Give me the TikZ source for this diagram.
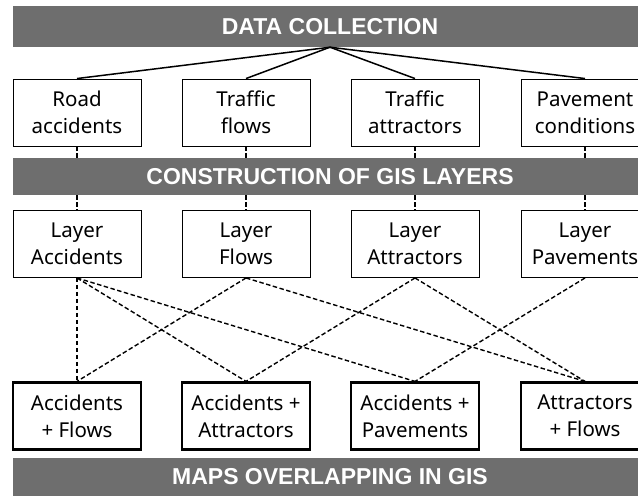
\documentclass[tikz,border=0pt]{standalone}
\usepackage{fontspec}
\setmainfont{Noto Sans}
\newfontfamily\bandfont{Liberation Sans}
\definecolor{bandgray}{RGB}{110,110,110}
\begin{document}
\begin{tikzpicture}[x=1pt,y=-1pt,
  band/.style={fill=bandgray, draw=none, minimum width=635pt, inner sep=0pt,
    text=white, font=\bandfont\bfseries\fontsize{23}{26}\selectfont},
  srcbox/.style={draw, line width=0.9pt, minimum width=128pt, minimum height=67pt,
    inner sep=0pt, align=center, font=\fontsize{20.5}{27}\selectfont},
  mapbox/.style={srcbox, line width=2.2pt},
  solidlink/.style={line width=1.5pt},
  dashlink/.style={line width=1.4pt, dash pattern=on 4.5pt off 2.5pt}]
\useasboundingbox (0,0) rectangle (638,496);

% stage bands
\node[band, minimum height=41pt] (dc)  at (330,26.5)  {DATA COLLECTION};
\node[band, minimum height=37pt] (gis) at (330,176.5) {CONSTRUCTION OF GIS LAYERS};
\node[band, minimum height=38pt] (map) at (330,477)   {MAPS OVERLAPPING IN GIS};

% data sources
\node[srcbox] (ra) at (77,112.5)  {Road\\accidents};
\node[srcbox] (tf) at (246,112.5) {Traffic\\flows};
\node[srcbox] (ta) at (415,112.5) {Traffic\\attractors};
\node[srcbox] (pc) at (585,112.5) {Pavement\\conditions};

% GIS layers
\node[srcbox] (la) at (77,244)  {Layer\\Accidents};
\node[srcbox] (lf) at (246,244) {Layer\\Flows};
\node[srcbox] (lt) at (415,244) {Layer\\Attractors};
\node[srcbox] (lp) at (585,244) {Layer\\Pavements};

% overlapped maps
\node[mapbox] (maf) at (77,416)  {Accidents\\+ Flows};
\node[mapbox] (mat) at (246,416) {Accidents +\\Attractors};
\node[mapbox] (map2) at (415,416) {Accidents +\\Pavements};
\node[mapbox] (mtf) at (585,416) {Attractors\\+ Flows};

% collection tree
\foreach \b in {ra,tf,ta,pc}
  \draw[solidlink] (dc.south) -- (\b.north);

% sources into the GIS band, and layers out of it
\foreach \b/\l in {ra/la,tf/lf,ta/lt,pc/lp} {
  \draw[dashlink] (\b.south) -- (\b.south |- gis.north);
  \draw[dashlink] (\l.north |- gis.south) -- (\l.north);
}

% layer combinations
\draw[dashlink] (la.south) -- (maf.north);
\draw[dashlink] (la.south) -- (mat.north);
\draw[dashlink] (la.south) -- (map2.north);
\draw[dashlink] (lf.south) -- (maf.north);
\draw[dashlink] (lf.south) -- (mtf.north);
\draw[dashlink] (lt.south) -- (mat.north);
\draw[dashlink] (lt.south) -- (mtf.north);
\draw[dashlink] (lp.south) -- (map2.north);
\end{tikzpicture}
\end{document}
